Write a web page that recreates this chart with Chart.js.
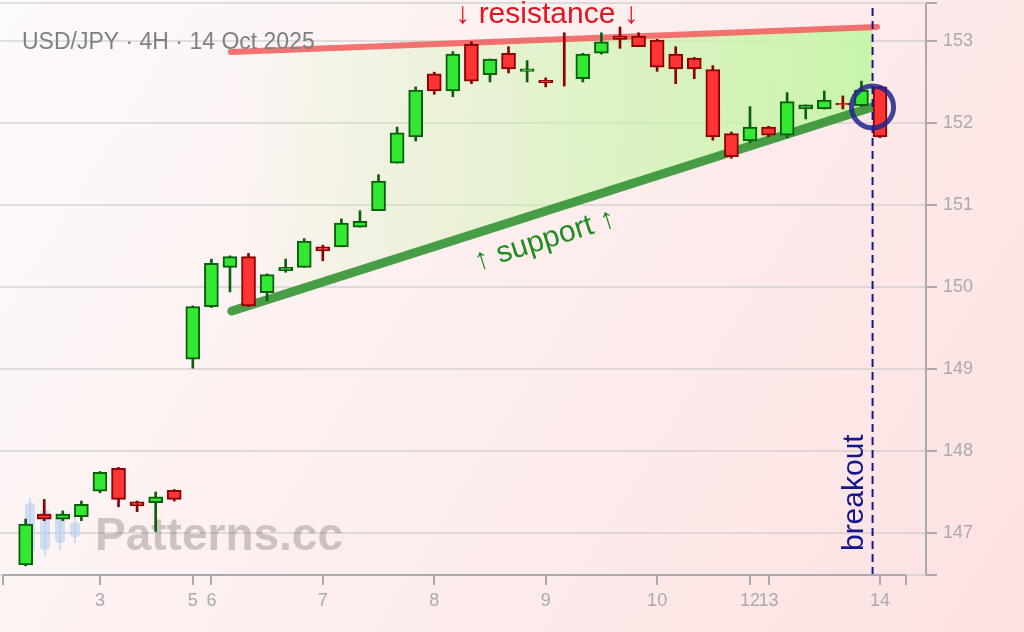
<!DOCTYPE html>
<html>
<head>
<meta charset="utf-8">
<title>USD/JPY 4H</title>
<script src="https://cdn.jsdelivr.net/npm/chart.js@4.4.1/dist/chart.umd.min.js"></script>
<style>
    html, body { margin: 0; padding: 0; background: #fff; }
    #wrap { width: 1024px; height: 632px; }
</style>
</head>
<body>
<div id="wrap"><canvas id="candleChart" width="1024" height="632"></canvas></div>
<script>
// day labels on the time axis and the candle slot where each day starts
const dayLabels = ['3', '5', '6', '7', '8', '9', '10', '12', '13', '14'];
const dayTickIdx = [4, 9, 10, 16, 22, 28, 34, 39, 40, 46];

// 4H candles, one slot each
const opens  = [146.61, 147.23, 147.17, 147.20, 147.51, 147.79, 147.38, 147.37, 147.52, 149.12,
                149.76, 150.24, 150.37, 149.93, 150.20, 150.24, 150.49, 150.49, 150.73, 150.93,
                151.51, 151.83, 152.60, 152.39, 152.96, 152.59, 152.85, 152.63, 152.52, null,
                152.54, 152.85, 153.06, 153.06, 153.01, 152.84, 152.79, 152.65, 151.87, 151.78,
                151.95, 151.85, 152.17, 152.17, 152.24, 152.21, 152.44];
const highs  = [147.17, 147.41, 147.27, 147.39, 147.75, 147.80, 147.39, 147.50, 147.53, 149.77,
                150.34, 150.38, 150.41, 150.16, 150.34, 150.59, 150.51, 150.83, 150.93, 151.37,
                151.95, 152.44, 152.62, 152.87, 152.99, 152.78, 152.93, 152.76, 152.55, 153.10,
                152.85, 153.10, 153.17, 153.10, 153.02, 152.93, 152.80, 152.70, 151.89, 152.20,
                151.96, 152.37, 152.22, 152.39, 152.33, 152.51, 152.45];
const lows   = [146.60, 147.15, 147.15, 147.15, 147.49, 147.32, 147.26, 147.02, 147.39, 149.01,
                149.75, 149.94, 149.76, 149.83, 150.18, 150.24, 150.32, 150.49, 150.73, 150.93,
                151.51, 151.78, 152.35, 152.32, 152.48, 152.50, 152.61, 152.50, 152.44, 152.45,
                152.50, 152.84, 152.91, 152.93, 152.63, 152.48, 152.54, 151.79, 151.57, 151.76,
                151.83, 151.82, 152.05, 152.17, 152.17, 152.20, 151.82];
const closes = [147.11, 147.17, 147.23, 147.35, 147.74, 147.41, 147.33, 147.44, 147.41, 149.76,
                150.29, 150.37, 149.77, 150.15, 150.24, 150.56, 150.44, 150.78, 150.80, 151.29,
                151.88, 152.40, 152.39, 152.84, 152.51, 152.78, 152.66, 152.66, 152.49, null,
                152.84, 152.99, 153.02, 152.93, 152.68, 152.66, 152.66, 151.83, 151.59, 151.95,
                151.85, 152.26, 152.22, 152.28, 152.22, 152.40, 151.83];

// price axis
const yTicks = [147, 148, 149, 150, 151, 152, 153];
const yMin = 146.488, yMax = 153.463;
const xMin = -1.22, xMax = 47.4;

// pattern lines
const resistanceIdx = [11.05, 45.84];
const resistanceVal = [152.866, 153.171];
const supportIdx = [11.1, 45.6];
const supportVal = [149.707, 152.195];
const zoneTopVal = [152.866, 153.16];
const breakoutIdx = 45.6;
const breakoutVal = 152.195;

// annotation anchors (slot, price)
const resistanceLabelAt = [28.07, 153.22];
const supportLabelAt = [27.96, 150.57];
const breakoutLabelAt = [45.09, 146.78];

const UP_FILL = '#33e833', UP_EDGE = '#0b5e0b';
const DN_FILL = '#ff3535', DN_EDGE = '#8e0000';
const isUp = i => closes[i] > opens[i];

const bodies = opens.map((o, i) => ({ x: i, y: o === null ? null : [o, closes[i]] }));
const wicks = lows.map((l, i) => ({ x: i, y: [l, highs[i]] }));

const decor = {
    id: 'decor',
    beforeDraw(chart) {
        const { ctx, width, height, chartArea: a } = chart;
        const ys = chart.scales.y;
        const g = ctx.createLinearGradient(0, 0, width, height);
        g.addColorStop(0, '#fdfafa');
        g.addColorStop(1, '#fde1e1');
        ctx.save();
        ctx.fillStyle = g;
        ctx.fillRect(0, 0, width, height);
        // horizontal gridlines, out to the offset price spine
        ctx.strokeStyle = 'rgba(200,200,200,0.75)';
        ctx.lineWidth = 1.5;
        ctx.beginPath();
        ys.ticks.forEach(t => {
            const y = ys.getPixelForValue(t.value);
            ctx.moveTo(0, y);
            ctx.lineTo(a.right + 20, y);
        });
        ctx.stroke();
        ctx.restore();
    },
    beforeDatasetsDraw(chart) {
        const { ctx } = chart;
        ctx.save();
        // watermark logo + text
        const wx = 95, wy = 550;
        ctx.fillStyle = 'rgba(180,205,240,0.6)';
        [[-70, -52, -47, 3, 7], [-55, -44, -40, 0, 6], [-40, -37, -33, -7, 0], [-25, -33, -28, -13, -7]]
            .forEach(([dx, wt, bt, bb, wb]) => {
                ctx.fillRect(wx + dx + 4, wy + wt, 2, wb - wt);
                ctx.beginPath();
                ctx.roundRect(wx + dx, wy + bt, 10, bb - bt, 4);
                ctx.fill();
            });
        ctx.font = 'bold 46px "Liberation Sans", Arial, sans-serif';
        ctx.fillStyle = 'rgba(110,100,100,0.33)';
        ctx.textAlign = 'left';
        ctx.textBaseline = 'alphabetic';
        ctx.fillText('Patterns.cc', wx, wy);
        ctx.restore();
    },
    afterDatasetsDraw(chart) {
        const { ctx } = chart;
        const xs = chart.scales.x, ys = chart.scales.y;
        ctx.save();
        ctx.font = '23px "Liberation Sans", Arial, sans-serif';
        ctx.fillStyle = '#808080';
        ctx.textAlign = 'left';
        ctx.textBaseline = 'alphabetic';
        ctx.fillText('USD/JPY · 4H · 14 Oct 2025', 22, 49);

        ctx.font = '30px "Liberation Sans", Arial, sans-serif';
        ctx.fillStyle = '#e5141c';
        ctx.textAlign = 'center';
        ctx.fillText('↓ resistance ↓', xs.getPixelForValue(resistanceLabelAt[0]), ys.getPixelForValue(resistanceLabelAt[1]));

        const x1 = xs.getPixelForValue(supportIdx[0]), y1 = ys.getPixelForValue(supportVal[0]);
        const x2 = xs.getPixelForValue(supportIdx[1]), y2 = ys.getPixelForValue(supportVal[1]);
        ctx.save();
        ctx.translate(xs.getPixelForValue(supportLabelAt[0]), ys.getPixelForValue(supportLabelAt[1]));
        ctx.rotate(Math.atan2(y2 - y1, x2 - x1));
        ctx.fillStyle = '#1f8c1f';
        ctx.textBaseline = 'middle';
        ctx.fillText('↑ support ↑', 0, 0);
        ctx.restore();

        ctx.save();
        ctx.translate(xs.getPixelForValue(breakoutLabelAt[0]), ys.getPixelForValue(breakoutLabelAt[1]));
        ctx.rotate(-Math.PI / 2);
        ctx.fillStyle = '#16168c';
        ctx.textAlign = 'left';
        ctx.fillText('breakout', 0, 0);
        ctx.restore();
        ctx.restore();
    },
    afterDraw(chart) {
        const { ctx, chartArea: a } = chart;
        const xs = chart.scales.x, ys = chart.scales.y;
        const sx = a.right + 20;
        ctx.save();
        ctx.strokeStyle = '#aaaaaa';
        ctx.lineWidth = 2;
        ctx.beginPath();
        ctx.moveTo(a.left, a.bottom); ctx.lineTo(a.right, a.bottom);
        xs.ticks.forEach(t => {
            const x = Math.round(xs.getPixelForValue(t.value));
            ctx.moveTo(x, a.bottom); ctx.lineTo(x, a.bottom + 10);
        });
        ctx.moveTo(sx, a.top); ctx.lineTo(sx, a.bottom);
        ys.ticks.forEach(t => {
            const y = ys.getPixelForValue(t.value);
            ctx.moveTo(sx, y); ctx.lineTo(sx + 11, y);
        });
        ctx.stroke();
        ctx.restore();
    }
};

new Chart(document.getElementById('candleChart'), {
    type: 'bar',
    data: {
        datasets: [
            {
                type: 'line', label: 'zoneTop', order: 10,
                data: [{ x: resistanceIdx[0], y: zoneTopVal[0] }, { x: breakoutIdx, y: zoneTopVal[1] }],
                borderWidth: 0, pointRadius: 0, fill: false
            },
            {
                type: 'line', label: 'zone', order: 9,
                data: [{ x: supportIdx[0], y: supportVal[0] }, { x: breakoutIdx, y: breakoutVal }],
                borderWidth: 0, pointRadius: 0, fill: '-1',
                backgroundColor: context => {
                    const { chart } = context;
                    if (!chart.chartArea) return 'rgba(200,245,170,0.5)';
                    const xs = chart.scales.x;
                    const g = chart.ctx.createLinearGradient(xs.getPixelForValue(supportIdx[0]), 0, xs.getPixelForValue(breakoutIdx), 0);
                    g.addColorStop(0, 'rgba(200,245,170,0)');
                    g.addColorStop(1, 'rgba(200,245,170,1)');
                    return g;
                }
            },
            {
                type: 'line', label: 'resistance', order: 8,
                data: resistanceIdx.map((x, i) => ({ x, y: resistanceVal[i] })),
                borderColor: 'rgba(242,90,90,0.85)', borderWidth: 6, borderCapStyle: 'round',
                pointRadius: 0, fill: false
            },
            {
                type: 'line', label: 'support', order: 7,
                data: supportIdx.map((x, i) => ({ x, y: supportVal[i] })),
                borderColor: 'rgba(52,148,52,0.9)', borderWidth: 9, borderCapStyle: 'round',
                pointRadius: 0, fill: false
            },
            {
                label: 'wicks', order: 3,
                data: wicks,
                backgroundColor: c => isUp(c.dataIndex) ? UP_EDGE : DN_EDGE,
                borderWidth: 0, barThickness: 2
            },
            {
                label: 'bodies', order: 2,
                data: bodies,
                backgroundColor: c => isUp(c.dataIndex) ? UP_FILL : DN_FILL,
                borderColor: c => isUp(c.dataIndex) ? UP_EDGE : DN_EDGE,
                borderWidth: 2, barThickness: 14
            },
            {
                type: 'line', label: 'breakout', order: 1,
                data: [{ x: breakoutIdx, y: yMin }, { x: breakoutIdx, y: yMax }],
                borderColor: '#16168c', borderWidth: 2, borderDash: [8, 5],
                pointRadius: 0, fill: false
            },
            {
                type: 'line', label: 'breakoutPoint', order: 0,
                data: [{ x: breakoutIdx, y: breakoutVal }],
                showLine: false, pointRadius: 21, pointHoverRadius: 21,
                pointBorderWidth: 5, pointBorderColor: 'rgba(35,35,140,0.85)',
                pointBackgroundColor: 'rgba(0,0,0,0)', fill: false
            }
        ]
    },
    options: {
        responsive: false,
        animation: false,
        devicePixelRatio: 1,
        layout: { autoPadding: false, padding: { left: 3, top: 3, right: 0, bottom: 0 } },
        datasets: { bar: { grouped: false, borderSkipped: false } },
        plugins: {
            legend: { display: false },
            tooltip: { enabled: false },
            filler: { propagate: false, drawTime: 'beforeDatasetsDraw' }
        },
        scales: {
            x: {
                type: 'linear', min: xMin, max: xMax, offset: false,
                grid: { drawOnChartArea: false, drawTicks: true, tickLength: 15, tickColor: 'rgba(0,0,0,0)', color: 'rgba(0,0,0,0)' },
                border: { display: false },
                afterBuildTicks: axis => {
                    axis.ticks = [xMin, ...dayTickIdx, xMax].map(v => ({ value: v }));
                },
                afterFit: axis => { axis.height = 57; },
                ticks: {
                    autoSkip: false, maxRotation: 0, minRotation: 0, padding: 0,
                    color: '#aaaaaa',
                    font: { family: '"Liberation Sans", Arial, sans-serif', size: 18 },
                    callback: value => {
                        const k = dayTickIdx.indexOf(value);
                        return k >= 0 ? dayLabels[k] : [];
                    }
                }
            },
            y: {
                type: 'linear', position: 'right', min: yMin, max: yMax,
                grid: { drawOnChartArea: false, drawTicks: true, tickLength: 37, tickColor: 'rgba(0,0,0,0)', color: 'rgba(0,0,0,0)' },
                border: { display: false },
                afterBuildTicks: axis => {
                    axis.ticks = [yMin, ...yTicks, yMax].map(v => ({ value: v }));
                },
                afterFit: axis => { axis.width = 118; },
                ticks: {
                    padding: 0,
                    color: '#aaaaaa',
                    font: { family: '"Liberation Sans", Arial, sans-serif', size: 18 },
                    callback: value => yTicks.includes(value) ? String(value) : []
                }
            }
        }
    },
    plugins: [decor]
});
</script>
</body>
</html>
